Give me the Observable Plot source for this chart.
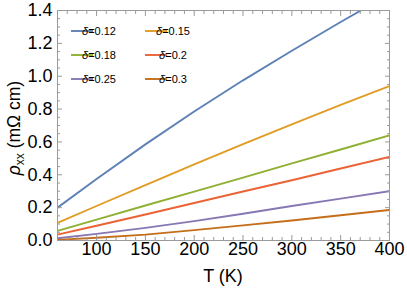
<!DOCTYPE html>
<html><head><meta charset="utf-8">
<script src="https://cdn.jsdelivr.net/npm/d3@7"></script>
<script src="https://cdn.jsdelivr.net/npm/@observablehq/plot@0.6"></script>
<style>
body{margin:0;background:#fff}
svg{font-family:"Liberation Sans",Arial,Helvetica,sans-serif}
</style>
</head><body><div id="chart"></div>
<script>
// ---- data ----
const temps  = [60, 100, 150, 200, 250, 300, 350, 400];
const deltas = ["0.12", "0.15", "0.18", "0.2", "0.25", "0.3"];
const colors = ["#5E81B5", "#E19C24", "#8FB032", "#EB6235", "#8778B3", "#C56E1A"];
const rho_012 = [0.200, 0.375, 0.585, 0.785, 0.975, 1.155, 1.330, 1.500];
const rho_015 = [0.107, 0.210, 0.337, 0.463, 0.587, 0.707, 0.825, 0.940];
const rho_018 = [0.059, 0.127, 0.213, 0.298, 0.383, 0.469, 0.554, 0.640];
const rho_020 = [0.036, 0.090, 0.158, 0.228, 0.298, 0.367, 0.438, 0.509];
const rho_025 = [0.014, 0.040, 0.077, 0.118, 0.163, 0.210, 0.255, 0.300];
const rho_030 = [0.004, 0.017, 0.036, 0.063, 0.092, 0.122, 0.154, 0.186];
const xTicks = [100, 150, 200, 250, 300, 350, 400];
const yTicks = [0, 0.2, 0.4, 0.6, 0.8, 1.0, 1.2, 1.4];

const series = [rho_012, rho_015, rho_018, rho_020, rho_025, rho_030];
const table = series.flatMap((vals, i) => vals.map((v, j) => ({T: temps[j], rho: v, delta: deltas[i]})));

const xMinor = d3.range(60, 401, 10).filter(v => !xTicks.includes(v));
const yMinor = d3.range(0, 1.401, 0.05).filter(v => !yTicks.some(t => Math.abs(t - v) < 1e-6));

const tickCol = "#9a9a9a";
const plot = Plot.plot({
  width: 407, height: 288,
  marginLeft: 57, marginRight: 18, marginTop: 10, marginBottom: 48,
  x: {domain: [60, 400]},
  y: {domain: [0, 1.4]},
  color: {domain: deltas, range: colors},
  style: {fontSize: "18px", color: "#000", background: "#fff", fontFamily: "Liberation Sans, Arial, sans-serif"},
  marks: [
    Plot.line(table, {x: "T", y: "rho", stroke: "delta", strokeWidth: 1.9, clip: true}),
    Plot.frame({stroke: tickCol}),
    // inward tick marks on all four sides
    Plot.axisX(xTicks, {anchor: "bottom", tickSize: -5, stroke: tickCol, fill: "none", label: null}),
    Plot.axisX(xMinor, {anchor: "bottom", tickSize: -3, stroke: tickCol, fill: "none", label: null}),
    Plot.axisX(xTicks, {anchor: "top", tickSize: -5, stroke: tickCol, fill: "none", label: null}),
    Plot.axisX(xMinor, {anchor: "top", tickSize: -3, stroke: tickCol, fill: "none", label: null}),
    Plot.axisY(yTicks, {anchor: "left", tickSize: -5, stroke: tickCol, fill: "none", label: null}),
    Plot.axisY(yMinor, {anchor: "left", tickSize: -3, stroke: tickCol, fill: "none", label: null}),
    Plot.axisY(yTicks, {anchor: "right", tickSize: -5, stroke: tickCol, fill: "none", label: null}),
    Plot.axisY(yMinor, {anchor: "right", tickSize: -3, stroke: tickCol, fill: "none", label: null}),
    // tick labels
    Plot.axisX(xTicks, {anchor: "bottom", tickSize: 0, tickPadding: 2, fill: "#000", label: null}),
    Plot.axisY(yTicks, {anchor: "left", tickSize: 0, tickPadding: 5, fill: "#000", tickFormat: d3.format(".1f"), label: null})
  ]
});

const svg = d3.select(plot);
// x title
svg.append("text").attr("x", 223).attr("y", 282).attr("text-anchor", "middle")
  .attr("font-size", 18).attr("fill", "#000").text("T (K)");
// y title with subscript
const yt = svg.append("text").attr("transform", "translate(20,128) rotate(-90)")
  .attr("text-anchor", "middle").attr("font-size", 17.5).attr("fill", "#000");
yt.append("tspan").attr("font-style", "italic").text("ρ");
yt.append("tspan").attr("font-size", 12).attr("dy", 4).text("xx");
yt.append("tspan").attr("dy", -4).text(" (mΩ cm)");

// legend (two columns, three rows)
const lg = svg.append("g").attr("font-size", 11);
deltas.forEach((d, i) => {
  const col = i % 2, row = Math.floor(i / 2);
  const x0 = col === 0 ? 71 : 145, y0 = [31, 55, 79][row];
  lg.append("line").attr("x1", x0).attr("x2", x0 + 22).attr("y1", y0).attr("y2", y0)
    .attr("stroke", colors[i]).attr("stroke-width", 1.9);
  const t = lg.append("text").attr("x", x0 + 28).attr("y", y0 + 4).attr("fill", "#000");
  t.append("tspan").attr("font-style", "italic").text("δ");
  t.append("tspan").text("=" + d);
});

document.getElementById("chart").appendChild(plot);
</script>
</body></html>
